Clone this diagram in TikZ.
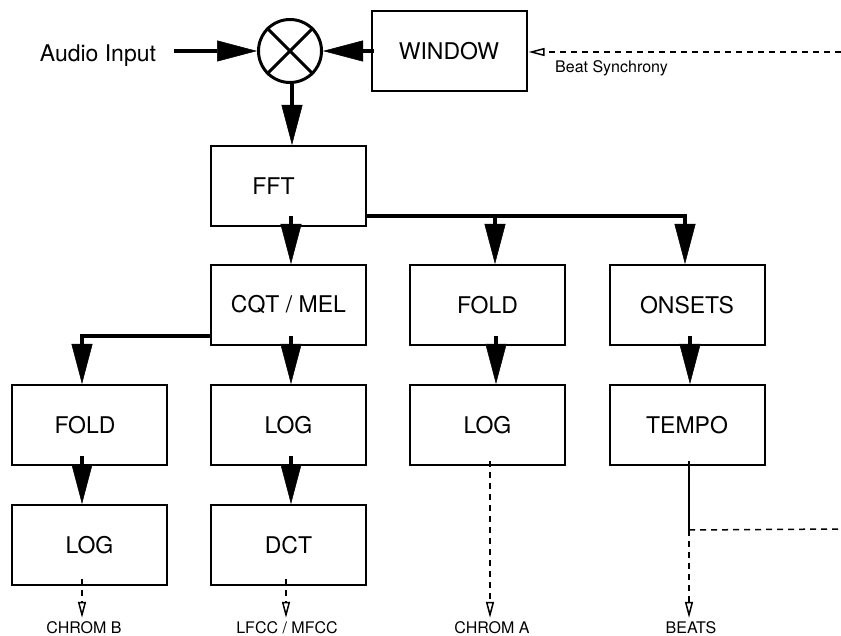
\documentclass[tikz,border=0pt]{standalone}
\usepackage{fontspec}
\setmainfont{TeX Gyre Heros}
\usetikzlibrary{arrows.meta}
\begin{document}
\begin{tikzpicture}[x=1pt,y=-1pt,
  box/.style={draw,line width=2pt,minimum width=155pt,minimum height=80pt,inner sep=0pt,
    font=\fontsize{23}{27}\selectfont},
  big/.style={line width=4pt,-{Triangle[length=40pt,width=21pt,line width=0.5pt]}},
  dsh/.style={line width=1.5pt,dash pattern=on 6pt off 5pt,
    -{Triangle[open,length=16pt,width=8pt,line width=1.5pt]}},
  dline/.style={line width=1.5pt,dash pattern=on 6pt off 5pt},
  small/.style={font=\fontsize{16}{19}\selectfont,inner sep=0pt}
]
\useasboundingbox (0,0) rectangle (841,636);

% nodes
\node[box] (win) at (449,51.5) {WINDOW};
\node[draw,circle,line width=3pt,minimum size=63pt,inner sep=0pt] (mul) at (290,51) {};
\node[font=\fontsize{23}{27}\selectfont,anchor=base] (ai) at (98,62) {Audio Input};

\node[box] (fft) at (288.5,186) {\hspace*{-30pt}FFT};
\node[box] (cqt) at (288.5,305) {CQT / MEL};
\node[box] (fold3) at (487.5,305) {FOLD};
\node[box] (onsets) at (687,305) {ONSETS};
\node[box] (foldL) at (89.5,425) {\hspace*{-9pt}FOLD};
\node[box] (logM) at (288.5,425) {LOG};
\node[box] (log3) at (487.5,425) {LOG};
\node[box] (tempo) at (687,425) {TEMPO};
\node[box] (logL) at (89.5,545) {LOG};
\node[box] (dct) at (288.5,545) {DCT};

\node[small,anchor=base west] (bs) at (555,73) {Beat Synchrony};
\node[small,anchor=base] (cb) at (84,633) {CHROM B};
\node[small,anchor=base] (lm) at (287,633) {LFCC / MFCC};
\node[small,anchor=base] (ca) at (492,633) {CHROM A};
\node[small,anchor=base] (bt) at (691,633) {BEATS};

% multiplier cross
\draw[line width=3pt] (mul.north west) -- (mul.south east);
\draw[line width=3pt] (mul.north east) -- (mul.south west);

% top connectors
\coordinate (aiE) at ([xshift=14pt]ai.east);
\draw[big] (aiE |- mul.west) -- (mul.west);
\draw[big] ([xshift=3pt]win.west |- mul.east) -- (mul.east);
\draw[big] ([xshift=2pt]mul.south) -- ([xshift=3.5pt]fft.north);

% FFT outputs
\draw[big] ([xshift=2.5pt,yshift=11pt]fft.south) -- ([xshift=2.5pt]cqt.north);
\draw[big] ([yshift=11pt]fft.south east) -| ([xshift=7.5pt]fold3.north);
\draw[big] ([yshift=11pt]fft.south east) -| ([xshift=-2pt]onsets.north);

% CQT outputs
\draw[big] ([yshift=10pt]cqt.south west) -| ([xshift=-7.5pt]foldL.north);
\draw[big] ([xshift=2.5pt,yshift=10pt]cqt.south) -- ([xshift=2.5pt]logM.north);
\draw[big] ([xshift=8.5pt,yshift=10pt]fold3.south) -- ([xshift=8.5pt]log3.north);
\draw[big] ([xshift=3pt,yshift=10pt]onsets.south) -- ([xshift=3pt]tempo.north);
\draw[big] ([xshift=-7.5pt,yshift=10pt]foldL.south) -- ([xshift=-7.5pt]logL.north);
\draw[big] ([xshift=2.5pt,yshift=10pt]logM.south) -- ([xshift=2.5pt]dct.north);

% dashed outputs
\coordinate (s1) at ([xshift=-7.5pt,yshift=7pt]logL.south);
\coordinate (s2) at ([xshift=-2.5pt,yshift=7pt]dct.south);
\coordinate (s3) at ([xshift=2.5pt,yshift=5pt]log3.south);
\coordinate (s4) at ([xshift=2pt,yshift=5pt]tempo.south);
\coordinate (tj) at ([xshift=2pt,yshift=-64pt]tempo.south);
\coordinate (rE) at (841,529);
\coordinate (tE) at (841,52);

\draw[dsh] (s1) -- ([yshift=3pt]s1 |- cb.north);
\draw[dsh] (s2) -- ([yshift=3pt]s2 |- lm.north);
\draw[dsh] (s3) -- ([yshift=3pt]s3 |- ca.north);
\draw[line width=1.3pt] (s4) -- (tj);
\draw[dsh] (tj) -- ([yshift=3pt]tj |- bt.north);
\draw[dline] (tj) -- (rE);
\draw[dsh] (tE) -- ([xshift=1pt]win.east |- tE);
\end{tikzpicture}
\end{document}
